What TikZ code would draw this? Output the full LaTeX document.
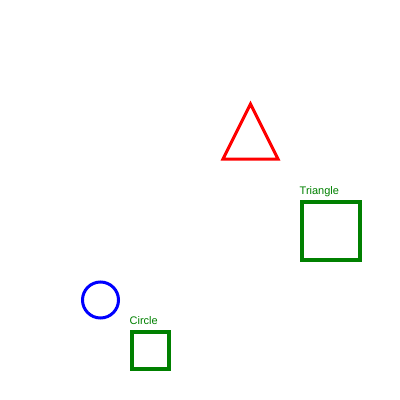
\documentclass[tikz,border=0pt]{standalone}
\usepackage{fontspec}
\setmainfont{Liberation Sans}
\usetikzlibrary{positioning}
\definecolor{shapegreen}{RGB}{0,128,0}

\begin{document}
\begin{tikzpicture}[
  x=1pt, y=-1pt,
  box/.style={draw=shapegreen, line width=4pt, inner sep=0pt, minimum size=#1},
  ring/.style={draw=blue, line width=3pt, circle, inner sep=0pt, minimum size=36pt},
  tri/.style={draw=red, line width=3pt},
  lbl/.style={font=\fontsize{11}{13}\selectfont, text=shapegreen, inner sep=0pt, text depth=0pt}
]

\useasboundingbox (0,0) rectangle (400,400);

% shapes
\coordinate (apex)  at (250.5,104);
\coordinate (right) at (278,159);
\coordinate (left)  at (223,159);
\draw[tri] (apex) -- (right) -- (left) -- cycle;

\node[box=58pt] (sqtri) at (330.5,230.5) {};
\node[ring] (circ) at (100.5,300) {};
\node[box=37pt] (sqcirc) at (150,350) {};

% labels
\node[lbl, above right=5pt and 0pt of sqtri.north west]  (lbltri)  {Triangle};
\node[lbl, above right=5pt and 0pt of sqcirc.north west] (lblcirc) {Circle};

\end{tikzpicture}
\end{document}
